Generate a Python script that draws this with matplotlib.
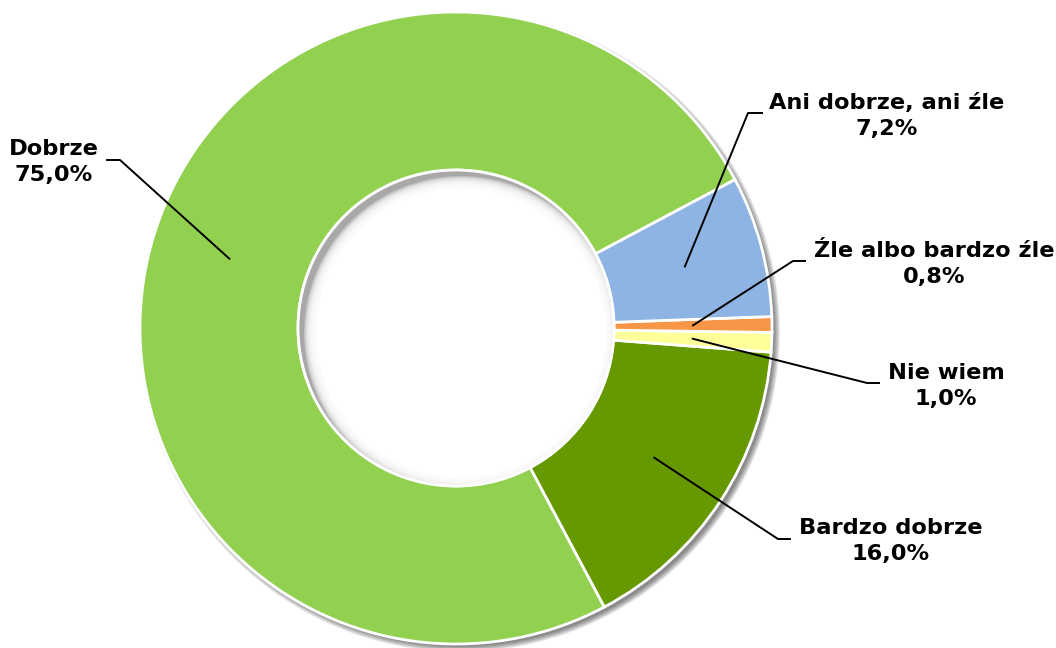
import numpy as np
import matplotlib
matplotlib.use('Agg')
import matplotlib.pyplot as plt
from matplotlib.patches import Circle

# data
labels = ['Dobrze', 'Bardzo dobrze', 'Nie wiem', 'Źle albo bardzo źle', 'Ani dobrze, ani źle']
values = [75.0, 16.0, 1.0, 0.8, 7.2]
colors = ['#92D050', '#669900', '#FFFF99', '#F79646', '#8DB4E2']

# label placement (pixels, image coords: y down) -> text centre, elbow, line end
text_pos = [(54, 162), (891, 541), (946, 386), (934, 264), (887, 116)]
elbow = [(120, 160), (778, 539), (867, 383), (793, 261), (748, 113)]
tail = [(107, 160), (790, 539), (879, 383), (805, 261), (762, 113)]

W, H = 1056, 648
cx, cy = 456, H - 328
R = 316
ring = 0.5
start = 28

fig = plt.figure(figsize=(W / 100, H / 100), dpi=100)
ax = fig.add_axes([0, 0, 1, 1])
ax.set_axis_off()

# outer soft shadow (down-right)
for k in range(8):
    ax.add_patch(Circle((cx + 4, cy - 4), R + 4 - k * 0.8, color='black', alpha=0.07, lw=0, zorder=1))

wedges, _ = ax.pie(values, colors=colors, startangle=start, counterclock=True,
                   radius=R, center=(cx, cy),
                   wedgeprops=dict(width=R * ring, edgecolor='white', linewidth=2))
for w in wedges:
    w.set_zorder(3)

# inner hole with shadow on the upper-left edge
r_in = R * (1 - ring)
hole = Circle((cx, cy), r_in - 1, color='#a8a8a8', lw=0, zorder=4)
ax.add_patch(hole)
for k in range(12):
    c = Circle((cx + 5, cy - 5), r_in - 1 - k * 1.0, color='white', alpha=0.28, lw=0, zorder=5)
    ax.add_patch(c)
    c.set_clip_path(hole)
ax.add_patch(Circle((cx + 5, cy - 5), r_in - 13, color='white', lw=0, zorder=5))
ax.add_patch(Circle((cx, cy), r_in, fill=False, ec='white', lw=2, zorder=6))

# labels with leader lines
for w, lab, v, tp, el, tl in zip(wedges, labels, values, text_pos, elbow, tail):
    mid = np.deg2rad((w.theta1 + w.theta2) / 2)
    rr = R * (1 - ring / 2)
    ax_x, ax_y = cx + rr * np.cos(mid), cy + rr * np.sin(mid)
    ax.plot([ax_x, el[0], tl[0]], [ax_y, H - el[1], H - tl[1]], color='black', lw=1.4, zorder=7)
    txt = lab + '\n' + ('%.1f%%' % v).replace('.', ',')
    ax.text(tp[0], H - tp[1], txt, ha='center', va='center', multialignment='center',
            fontsize=16.2, fontweight='bold', family='DejaVu Sans', linespacing=1.42, zorder=8)

ax.set_xlim(0, W)
ax.set_ylim(0, H)
ax.set_aspect('auto')
fig.savefig('out.png', dpi=100)
